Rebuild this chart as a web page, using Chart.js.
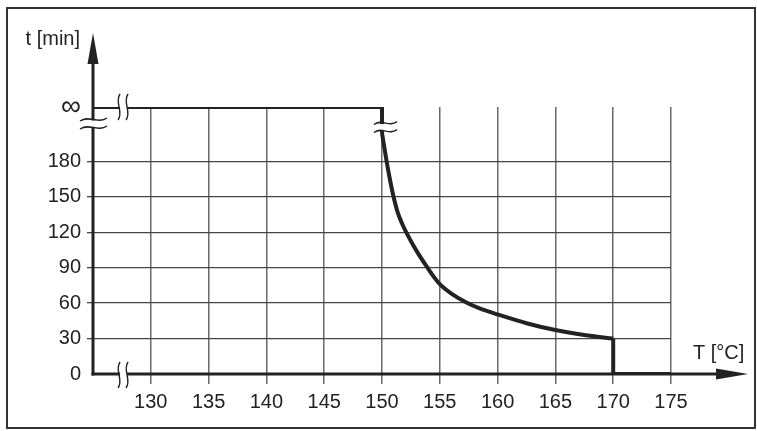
<!DOCTYPE html>
<html>
<head>
<meta charset="utf-8">
<title>t [min] vs T [°C]</title>
<script src="https://cdn.jsdelivr.net/npm/chart.js@4.4.1/dist/chart.umd.min.js"></script>
<style>
  html, body { margin: 0; padding: 0; background: #fff; }
  #wrap { position: relative; width: 757px; height: 431px; overflow: hidden; }
  #frame {
    position: absolute; left: 6px; top: 7px; width: 750px; height: 422px;
    border: 2px solid #333; box-sizing: border-box;
  }
  #chart { position: absolute; left: 0; top: 0; }
</style>
</head>
<body>
<div id="wrap">
  <div id="frame"></div>
  <canvas id="chart" width="757" height="431"></canvas>
</div>
<script>
// Data
const INF = 226; // where the "∞" level sits on the time axis
const tTicks = [130, 135, 140, 145, 150, 155, 160, 165, 170, 175];
const minTicks = [0, 30, 60, 90, 120, 150, 180, INF];

// flat "infinite" part, then the drop at 150 °C
const plateauT = [125, 150, 150];
const plateauMin = [INF, INF, 204];

// the falling curve 150..170 °C
const curveT = [150, 150.4, 150.7, 151, 151.35, 151.75, 152.2, 153, 154, 154.5, 155, 156, 157.3, 158.5, 160, 162.5, 165, 167.5, 170];
const curveMin = [204, 180, 164, 150, 137, 127, 118, 104, 89, 82, 76, 68, 60.5, 55.3, 50.4, 43, 37.2, 33, 30];

// cut-off at 170 °C
const tailT = [170, 170, 175];
const tailMin = [30, 0, 0];

const FONT = "'Liberation Sans', Arial, sans-serif";
const INK = "#222";

const toPoints = (xs, ys) => xs.map((x, i) => ({ x: x, y: ys[i] }));

// small wavy stroke, horizontal or vertical
const wave = (ctx, x0, y0, len, vertical) => {
  ctx.beginPath();
  if (vertical) {
    ctx.moveTo(x0 + 1, y0);
    ctx.bezierCurveTo(x0 - 5, y0 + len / 3, x0 + 5, y0 + (2 * len) / 3, x0 - 1, y0 + len);
  } else {
    ctx.moveTo(x0, y0 + 1.5);
    ctx.bezierCurveTo(x0 + len / 3, y0 - 5, x0 + (2 * len) / 3, y0 + 5, x0 + len, y0 - 1.5);
  }
  ctx.stroke();
};

const axesPlugin = {
  id: "axesPlugin",
  beforeDatasetsDraw(chart) {
    const { ctx, scales } = chart;
    const x0 = scales.x.getPixelForValue(125);
    const y0 = scales.y.getPixelForValue(0);
    ctx.save();
    ctx.strokeStyle = INK;
    ctx.fillStyle = INK;
    ctx.lineWidth = 3;
    // y axis with arrow
    ctx.beginPath();
    ctx.moveTo(x0, y0 + 1.5);
    ctx.lineTo(x0, 60);
    ctx.stroke();
    ctx.beginPath();
    ctx.moveTo(x0, 33);
    ctx.lineTo(x0 - 5.5, 64);
    ctx.lineTo(x0 + 5.5, 64);
    ctx.closePath();
    ctx.fill();
    // x axis with arrow
    ctx.beginPath();
    ctx.moveTo(x0 - 1.5, y0);
    ctx.lineTo(720, y0);
    ctx.stroke();
    ctx.beginPath();
    ctx.moveTo(748, y0);
    ctx.lineTo(716, y0 - 5.5);
    ctx.lineTo(716, y0 + 5.5);
    ctx.closePath();
    ctx.fill();
    ctx.restore();
  },
  afterDraw(chart) {
    const { ctx, scales } = chart;
    const xs = scales.x, ys = scales.y;
    const x0 = xs.getPixelForValue(125);
    const y0 = ys.getPixelForValue(0);
    const yInf = ys.getPixelForValue(INF);
    const xBrk = xs.getPixelForValue(127.6);
    const yBrk = ys.getPixelForValue(212);
    const x150 = xs.getPixelForValue(150);
    const yCut = ys.getPixelForValue(209);

    ctx.save();
    ctx.fillStyle = "#fff";
    // gaps
    ctx.fillRect(x0 - 5, yBrk - 3, 10, 7);
    ctx.fillRect(xBrk - 3, yInf - 4, 7, 8);
    ctx.fillRect(xBrk - 3, y0 - 4, 7, 8);
    ctx.fillRect(x150 - 5, yCut - 3, 10, 7);

    ctx.strokeStyle = INK;
    ctx.lineWidth = 1.4;
    // y axis break
    wave(ctx, x0 - 13, yBrk - 4, 27, false);
    wave(ctx, x0 - 13, yBrk + 4, 27, false);
    // break on the ∞ line
    wave(ctx, xBrk - 4, yInf - 13, 26, true);
    wave(ctx, xBrk + 4, yInf - 13, 26, true);
    // break on the T axis
    wave(ctx, xBrk - 4, y0 - 12, 26, true);
    wave(ctx, xBrk + 4, y0 - 12, 26, true);
    // break on the curve at 150
    wave(ctx, x150 - 8, yCut - 4, 23, false);
    wave(ctx, x150 - 8, yCut + 4, 23, false);

    // axis titles
    ctx.fillStyle = INK;
    ctx.font = "20px " + FONT;
    ctx.textBaseline = "middle";
    ctx.textAlign = "right";
    ctx.fillText("t [min]", 80, 39);
    ctx.textAlign = "left";
    ctx.fillText("T [°C]", 693, 353);
    ctx.restore();
  },
};

const initChart = () => {
  Chart.defaults.font.family = FONT;
  Chart.defaults.font.size = 20;
  Chart.defaults.color = INK;

  const ctx = document.getElementById("chart").getContext("2d");
  const lineStyle = {
    showLine: true,
    borderColor: INK,
    borderWidth: 4,
    pointRadius: 0,
    fill: false,
    borderJoinStyle: "miter",
  };

  new Chart(ctx, {
    type: "scatter",
    data: {
      datasets: [
        Object.assign({ data: toPoints(plateauT, plateauMin), tension: 0 }, lineStyle),
        Object.assign({ data: toPoints(curveT, curveMin), cubicInterpolationMode: "monotone" }, lineStyle),
        Object.assign({ data: toPoints(tailT, tailMin), tension: 0 }, lineStyle),
      ],
    },
    options: {
      responsive: false,
      animation: false,
      devicePixelRatio: 1,
      layout: { padding: { top: 107, right: 86, left: 0, bottom: 0 } },
      plugins: {
        legend: { display: false },
        tooltip: { enabled: false },
      },
      scales: {
        x: {
          type: "linear",
          min: 125,
          max: 175,
          afterBuildTicks: (s) => {
            s.ticks = tTicks.map((v) => ({ value: v }));
          },
          afterFit: (s) => {
            s.height = 57;
            s.paddingLeft = 0;
            s.paddingRight = 0;
          },
          grid: { color: "#6a6a6a", lineWidth: 1.5, tickLength: 10 },
          border: { display: false },
          ticks: { padding: 6, maxRotation: 0, autoSkip: false, color: INK },
        },
        y: {
          type: "linear",
          min: 0,
          max: INF,
          afterBuildTicks: (s) => {
            s.ticks = minTicks.map((v) => ({ value: v }));
          },
          afterFit: (s) => {
            s.width = 93;
          },
          grid: {
            color: (c) =>
              c.tick && (c.tick.value === 0 || c.tick.value === INF) ? "rgba(0,0,0,0)" : "#444",
            lineWidth: 1.3,
            tickLength: 6,
          },
          border: { display: false },
          ticks: {
            padding: 6,
            autoSkip: false,
            color: INK,
            callback: (v) => (v === INF ? "∞" : v),
            font: (c) =>
              c.tick && c.tick.value === INF ? { size: 28, family: FONT } : { size: 20, family: FONT },
          },
        },
      },
    },
    plugins: [axesPlugin],
  });
};

window.addEventListener("DOMContentLoaded", initChart);
</script>
</body>
</html>
